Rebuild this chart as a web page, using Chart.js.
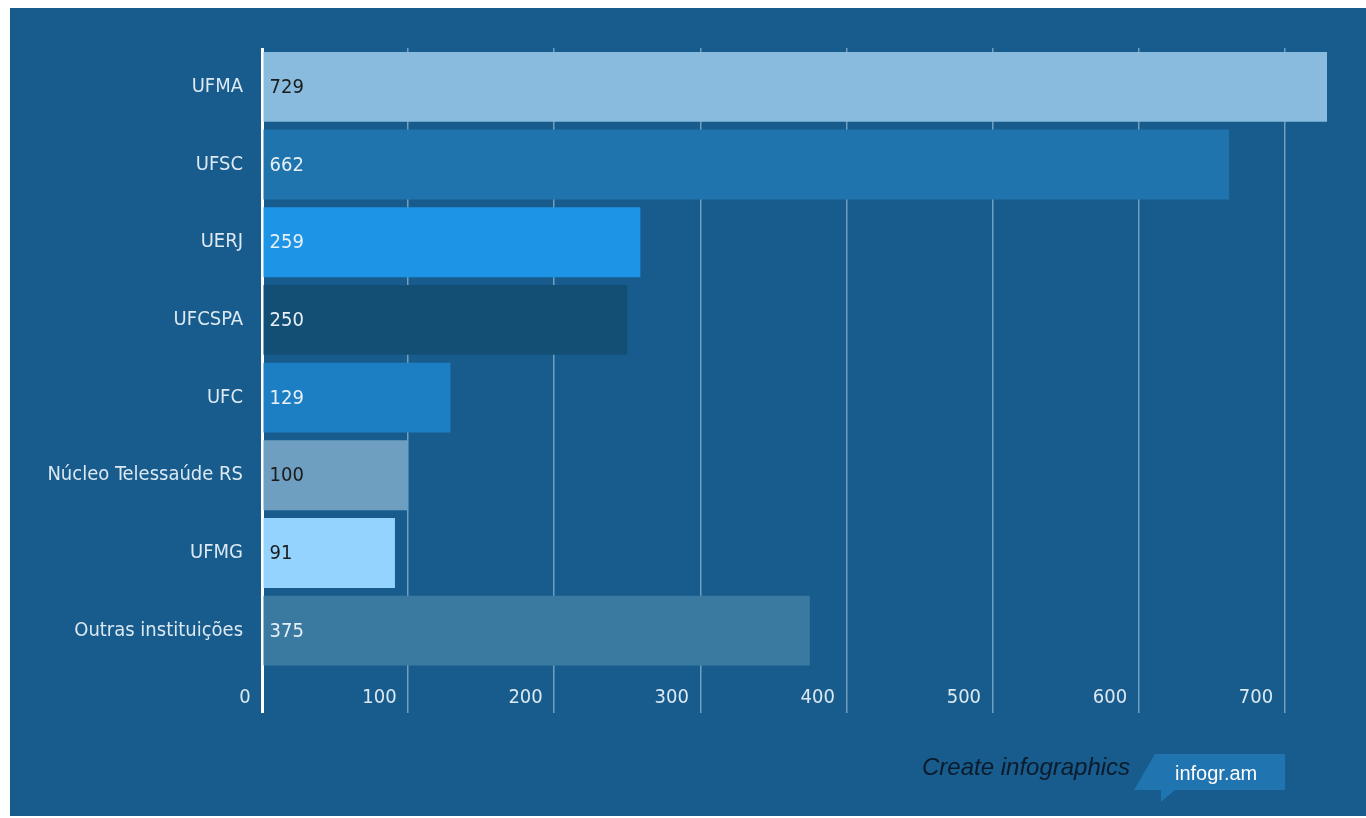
<!DOCTYPE html>
<html>
<head>
<meta charset="utf-8">
<script src="https://cdn.jsdelivr.net/npm/chart.js@4"></script>
<style>
  html, body { margin: 0; padding: 0; background: #fff; }
  body { width: 1366px; height: 818px; position: relative; overflow: hidden; }
  #panel { position: absolute; left: 10px; top: 8px; width: 1356px; height: 808px; background: #175c8c; }
  #wrap { position: absolute; left: 0; top: 0; width: 1356px; height: 808px; }
  #credit { position: absolute; left: 912px; top: 745px; font: italic 24px "Liberation Sans", Arial, sans-serif; color: #0b1b2c; }
  #badge { position: absolute; left: 1124px; top: 746px; }
</style>
</head>
<body>
<div id="panel">
  <div id="wrap"><canvas id="barras"></canvas></div>
  <div id="credit">Create infographics</div>
  <svg id="badge" width="152" height="50">
    <polygon points="21,0 151,0 151,36 41,36 27,48 27,36 0,36" fill="#2075b0"/>
    <text x="41" y="26" font-family="Liberation Sans, Arial, sans-serif" font-size="20" fill="#fff">infogr.am</text>
  </svg>
</div>
<script>
const barras = document.getElementById("barras");

const instituicoes = [
  "UFMA",
  "UFSC",
  "UERJ",
  "UFCSPA",
  "UFC",
  "Núcleo Telessaúde RS",
  "UFMG",
  "Outras instituições",
];
const valores = [729, 662, 259, 250, 129, 100, 91, 375];
const coresBarras = [
  "#88bbdd",
  "#2074ad",
  "#1d94e6",
  "#134f75",
  "#1c7fc4",
  "#6e9fc0",
  "#93d3fd",
  "#3a7aa1",
];
const coresTexto = [
  "#1b1b1b",
  "#e8f0f7",
  "#e8f0f7",
  "#e8f0f7",
  "#e8f0f7",
  "#1b1b1b",
  "#1b1b1b",
  "#e8f0f7",
];

const fonte = '"Liberation Sans Narrow", "DejaVu Sans Condensed", sans-serif';

// escreve o valor no começo de cada barra
const rotulosValores = {
  id: "rotulosValores",
  afterDatasetsDraw(chart) {
    const ctx = chart.ctx;
    const meta = chart.getDatasetMeta(0);
    ctx.save();
    ctx.font = "20px " + fonte;
    ctx.textBaseline = "middle";
    ctx.textAlign = "left";
    meta.data.forEach((bar, i) => {
      ctx.fillStyle = coresTexto[i];
      ctx.fillText(valores[i], bar.base + 6, bar.y + 1);
    });
    ctx.restore();
  },
};

new Chart(barras, {
  type: "bar",
  data: {
    labels: instituicoes,
    datasets: [
      {
        data: valores,
        backgroundColor: coresBarras,
        borderWidth: 0,
        categoryPercentage: 1,
        barPercentage: 0.9,
      },
    ],
  },
  options: {
    indexAxis: "y",
    responsive: true,
    maintainAspectRatio: false,
    animation: false,
    layout: {
      padding: { top: 40, right: 39, bottom: 96.5, left: 0 },
    },
    scales: {
      x: {
        min: 0,
        max: Math.max(...valores),
        border: { display: false },
        grid: {
          color: (c) => (c.tick && c.tick.value === 0 ? "#ffffff" : "rgba(190,215,235,0.55)"),
          lineWidth: (c) => (c.tick && c.tick.value === 0 ? 3 : 1.5),
          drawTicks: true,
          tickLength: 43.5,
        },
        ticks: {
          stepSize: 100,
          includeBounds: false,
          align: "end",
          padding: -27,
          color: "#dce8f2",
          font: { size: 20, family: fonte },
          callback: (v) => v + "  ",
        },
        afterFit: (scale) => {
          scale.height = 50;
        },
      },
      y: {
        border: { display: false },
        grid: { display: false, drawTicks: false },
        ticks: {
          padding: 19,
          color: "#dce8f2",
          font: { size: 20, family: fonte },
        },
        afterFit: (scale) => {
          scale.width = 252;
        },
      },
    },
    plugins: {
      legend: { display: false },
      tooltip: { enabled: false },
    },
  },
  plugins: [rotulosValores],
});
</script>
</body>
</html>
